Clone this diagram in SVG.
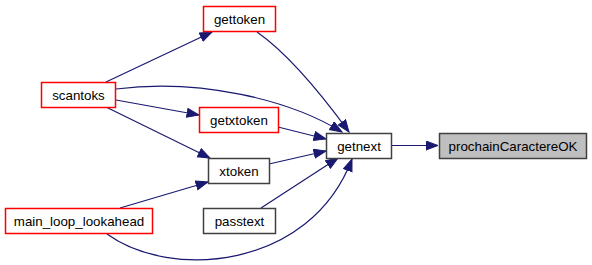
<svg xmlns="http://www.w3.org/2000/svg" width="592" height="265" viewBox="0 0 592 265">
  <style>
    .box { fill: #ffffff; stroke-width: 1.5; }
    .red { stroke: #ff0000; }
    .black { stroke: #404040; }
    .focus { fill: #bfbfbf; stroke: #404040; stroke-width: 1.5; }
    text { font-family: "Liberation Sans", Arial, sans-serif; font-size: 13.33px; fill: #000000; text-anchor: middle; }
    .edge { fill: none; stroke: #191970; stroke-width: 1.2; marker-end: url(#arrow); }
  </style>
  <defs>
    <marker id="arrow" markerUnits="userSpaceOnUse" markerWidth="14" markerHeight="11" refX="12.5" refY="5" orient="auto">
      <path d="M0.5,0.5 L12.5,5 L0.5,9.5 z" fill="#191970" stroke="#191970" stroke-width="1"/>
    </marker>
  </defs>

  <rect width="592" height="265" fill="#ffffff"/>

  <g id="edges">
    <path class="edge" d="M392,145.5 L438,145.5"/>
    <path class="edge" d="M106,82 L212,32"/>
    <path class="edge" d="M257,32 C290,55 322,95 349,132"/>
    <path class="edge" d="M116,89 C200,78 290,100 342,132"/>
    <path class="edge" d="M116,100 L199,115"/>
    <path class="edge" d="M278,127 L326,139"/>
    <path class="edge" d="M106,107 L210,158"/>
    <path class="edge" d="M269,164 L326,151"/>
    <path class="edge" d="M120,208 L208,182"/>
    <path class="edge" d="M261,208 L338,158"/>
    <path class="edge" d="M107,234 C170,280 310,270 352,159"/>
  </g>

  <g id="node-gettoken">
    <rect class="box red" x="203.5" y="6.5" width="72" height="25"/>
    <text x="239.5" y="23.5">gettoken</text>
  </g>
  <g id="node-scantoks">
    <rect class="box red" x="41.5" y="82.5" width="74" height="25"/>
    <text x="78.5" y="99.5">scantoks</text>
  </g>
  <g id="node-getxtoken">
    <rect class="box red" x="199.5" y="107.5" width="79" height="25"/>
    <text x="239" y="124.5">getxtoken</text>
  </g>
  <g id="node-xtoken">
    <rect class="box black" x="208.5" y="158.5" width="61" height="25"/>
    <text x="239" y="175.5">xtoken</text>
  </g>
  <g id="node-main_loop_lookahead">
    <rect class="box red" x="5.5" y="208.5" width="147" height="25"/>
    <text x="79" y="225.5">main_loop_lookahead</text>
  </g>
  <g id="node-passtext">
    <rect class="box black" x="203.5" y="208.5" width="72" height="25"/>
    <text x="239.5" y="225.5">passtext</text>
  </g>
  <g id="node-getnext">
    <rect class="box black" x="326.5" y="133.5" width="65" height="25"/>
    <text x="359" y="150.5">getnext</text>
  </g>
  <g id="node-prochainCaractereOK">
    <rect class="focus" x="439.5" y="133.5" width="147" height="25"/>
    <text x="513" y="150.5">prochainCaractereOK</text>
  </g>
</svg>
